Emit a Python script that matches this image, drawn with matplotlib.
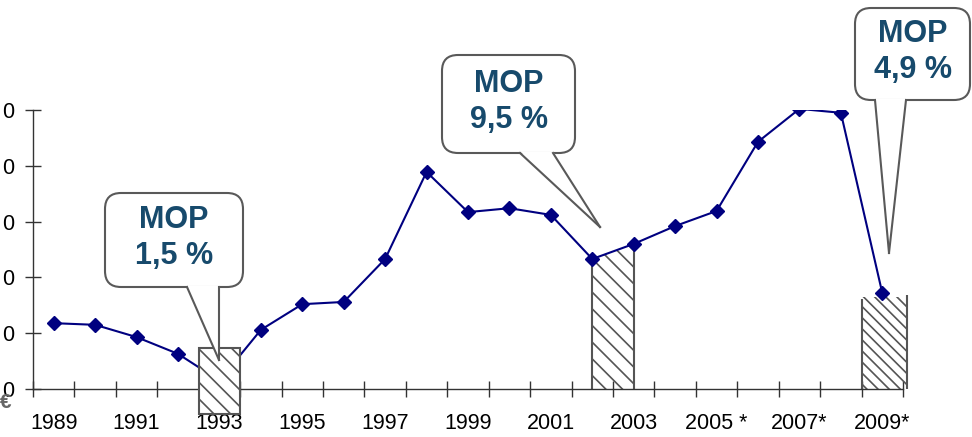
import matplotlib.pyplot as plt
from matplotlib.patches import FancyBboxPatch, Polygon, Rectangle
from matplotlib.transforms import Affine2D

plt.rcParams['font.family'] = ['Liberation Sans', 'DejaVu Sans']
plt.rcParams['hatch.color'] = '#444444'
plt.rcParams['hatch.linewidth'] = 1.2

years = list(range(1989, 2010))
values = [1.18, 1.15, 0.93, 0.63, 0.15, 1.06, 1.52, 1.56, 2.33, 3.89, 3.17,
          3.24, 3.12, 2.33, 2.60, 2.92, 3.19, 4.43, 5.02, 4.95, 1.72]
year_labels = ["1989", "1991", "1993", "1995", "1997", "1999", "2001",
               "2003", "2005 *", "2007*", "2009*"]
# only the last digit of the value labels is visible in the cropped chart
ytick_labels = ["0", "0", "0", "0", "0", "0"]
callout_texts = ["MOP\n1,5 %", "MOP\n9,5 %", "MOP\n4,9 %"]

W, H = 972, 437
fig = plt.figure(figsize=(W / 100, H / 100), dpi=100)
ax = fig.add_axes([33 / W, (H - 389) / H, 870 / W, 279 / H])
ax.set_facecolor('none')

x = list(range(len(years)))
ax.plot(x, values, color='#000080', lw=1.5, marker='D', ms=7.5,
        markerfacecolor='#000080', markeredgecolor='#000080', zorder=3)

ax.set_xlim(-0.5, len(years) - 0.5)
ax.set_ylim(0, 5)
for s in ['top', 'right']:
    ax.spines[s].set_visible(False)
for s in ['left', 'bottom']:
    ax.spines[s].set_color('#333333')
    ax.spines[s].set_linewidth(1.0)

ax.set_yticks(range(6))
ax.set_yticklabels(ytick_labels, fontsize=15.5)
ax.tick_params(axis='y', direction='inout', length=11, width=1,
               color='#333333', pad=8)

ax.set_xticks([i - 0.5 for i in range(len(years) + 1)])
ax.set_xticklabels([])
ax.tick_params(axis='x', which='major', direction='inout', length=11,
               width=1, color='#333333')
ax.set_xticks(range(0, len(years), 2), year_labels, minor=True)
ax.tick_params(axis='x', which='minor', length=0, labelsize=15.5, pad=17)

hatch_kw = dict(facecolor='white', edgecolor='#555555', hatch='\\\\',
                lw=1.5, clip_on=False, zorder=4)

# 1993 box
i93 = years.index(1993)
ax.add_patch(Rectangle((i93 - 0.5, -0.45), 1.0, 1.18, **hatch_kw))

# 2002-2003 area under line
i02 = years.index(2002)
ax.fill_between([i02, i02 + 1], [values[i02], values[i02 + 1]], 0,
                facecolor='none', edgecolor='#555555', hatch='\\\\',
                lw=0, zorder=2)
ax.vlines([i02, i02 + 1], 0, [values[i02], values[i02 + 1]],
          color='#555555', lw=1.5, zorder=2)

# 2009 box
i09 = years.index(2009)
ax.add_patch(Rectangle((i09 - 0.5, 0), 1.1, 1.65, facecolor='none',
                       edgecolor='#555555', hatch='\\\\\\', lw=0,
                       clip_on=False, zorder=2))
ax.vlines([i09 - 0.5, i09 + 0.6], 0, [1.62, 1.68], color='#555555',
          lw=1.5, clip_on=False, zorder=2)

# callouts in pixel coordinates (origin top-left)
px = Affine2D().scale(1 / W, -1 / H).translate(0, 1) + fig.transFigure


def callout(x0, y0, x1, y1, b0, b1, tip, text):
    box = FancyBboxPatch((x0, y0), x1 - x0, y1 - y0,
                         boxstyle='round,pad=0,rounding_size=16',
                         facecolor='white', edgecolor='#595959', lw=1.5,
                         transform=px, zorder=5, clip_on=False)
    fig.patches.append(box)
    tri = Polygon([(b0, y1 - 1.5), tip, (b1, y1 - 1.5)], closed=True,
                  facecolor='white', edgecolor='none', transform=px,
                  zorder=6, clip_on=False)
    fig.patches.append(tri)
    for b in (b0, b1):
        fig.lines.append(plt.Line2D([b, tip[0]], [y1, tip[1]],
                                    color='#595959', lw=1.5, transform=px,
                                    zorder=7))
    fig.text((x0 + x1) / 2 / W, 1 - ((y0 + y1) / 2 - 2) / H, text,
             ha='center', va='center', fontsize=22, fontweight='bold',
             color='#174a6c', linespacing=1.25, zorder=8)


callout(105, 193, 243, 287, 187, 219, (219, 360), callout_texts[0])
callout(442, 55, 575, 153, 520, 553, (600, 227), callout_texts[1])
callout(855, 8, 970, 100, 875, 906, (889, 253), callout_texts[2])

fig.text(12 / W, 1 - 403 / H, "€", ha='right', va='center', fontsize=15,
         fontweight='bold', color='#666666')

fig.savefig('out.png', dpi=100)
